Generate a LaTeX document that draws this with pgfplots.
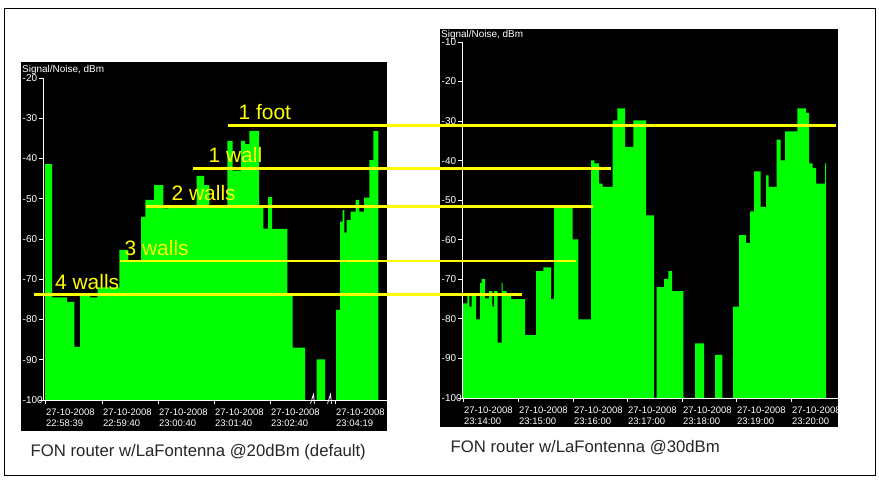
\documentclass[border=0pt]{standalone}
\usepackage{pgfplots}
\pgfplotsset{compat=1.18}
\usepackage{fontspec}
\setmainfont{Liberation Sans}

\definecolor{scrgreen}{RGB}{0,255,0}
\definecolor{scryellow}{RGB}{255,255,0}

\pgfplotsset{
  canvas/.style={at={(0,0)}, anchor=north west, width=879bp, height=481bp,
    scale only axis, xmin=0, xmax=879, ymin=0, ymax=481, y dir=reverse,
    hide axis, clip=false},
  panel/.style={anchor=north west, scale only axis, axis on top, clip=false,
    axis x line=bottom, axis y line=left,
    axis line style={white, line width=0.8bp, -},
    tick style={white, line width=0.8bp}, tick align=outside,
    major tick length=4bp, minor tick num=0,
    ticklabel style={white, font=\fontsize{9.5}{11.5}\selectfont},
    xticklabel style={anchor=north west, align=left, inner sep=0pt, yshift=-4.5bp, xshift=1bp},
    yticklabel style={anchor=west, inner sep=0pt, xshift=-16.5bp,
      font=\fontsize{10}{10}\selectfont}},
}
\tikzset{
  walllabel/.style={anchor=base west, inner sep=0pt, text=scryellow,
    font=\fontsize{21}{21}\selectfont},
  capt/.style={anchor=base west, inner sep=0pt, text=black!85,
    font=\fontsize{16.8}{16.8}\selectfont},
  snlabel/.style={anchor=base west, inner sep=0pt, text=white,
    font=\fontsize{10}{10}\selectfont},
}

\begin{document}
\begin{tikzpicture}
% background: black screen areas
\begin{axis}[canvas]
\path (axis cs:0,0) rectangle (axis cs:879,481);
\addplot[fill=black, draw=none] coordinates {(21,62) (387,62) (387,431) (21,431)};
\addplot[fill=black, draw=none] coordinates {(440,29) (838,29) (838,427) (440,427)};
\end{axis}

% left panel: 20 dBm
\begin{axis}[panel, at={(43bp,-78bp)}, width=344bp, height=322bp,
  xmin=43, xmax=387, ymin=-100, ymax=-20,
  ytick={-100,-90,-80,-70,-60,-50,-40,-30,-20},
  yticklabels={\raisebox{-4.5bp}{-100},-90,-80,-70,-60,-50,-40,-30,-20},
  xtick={45,102,158,214,270,335},
  xticklabels={{27-10-2008\\22:58:39},{27-10-2008\\22:59:40},{27-10-2008\\23:00:40},
    {27-10-2008\\23:01:40},{27-10-2008\\23:02:40},{27-10-2008\\23:04:19}}]
\addplot[fill=scrgreen, draw=none, const plot mark left] coordinates {
(45,-100) (45,-41.4) (52,-74.5) (67,-75.6) (74.3,-86.8) (80,-73.8) (90,-74.5)
(97.7,-72) (119.3,-62.7) (128.3,-65.4) (141,-54.5) (145.3,-50.3) (154,-46.6)
(163.3,-52.4) (168,-51.6) (196.7,-44.3) (204,-46.6) (209.3,-51.6) (227.3,-35.6)
(232.7,-43) (241,-35.6) (245,-36.4) (249.3,-33.2) (259,-51.8) (263.3,-57.4)
(268,-49.6) (272,-57.5) (287.3,-73.5) (292.7,-87.0) (305,-100) (316.7,-89.9)
(325,-100) (336,-77.6) (340,-55.7) (342.7,-52.8) (344.3,-58.4) (346.7,-55.3)
(350.7,-53.2) (355.7,-50.3) (359,-53.2) (364,-49.7) (369.3,-40.4) (373.3,-33.2)
(378.3,-33.2) (378.3,-100)
};
% time-axis breaks
\draw[white, line width=0.8bp] (axis cs:310.5,-100.9) -- (axis cs:313.5,-98.6) -- (axis cs:314.5,-100.9);
\draw[white, line width=0.8bp] (axis cs:327.5,-100.9) -- (axis cs:330.5,-98.6) -- (axis cs:331.5,-100.9);
\end{axis}

% right panel: 30 dBm
\begin{axis}[panel, at={(462bp,-42bp)}, width=376bp, height=356bp,
  xmin=462, xmax=838, ymin=-100, ymax=-10,
  ytick={-100,-90,-80,-70,-60,-50,-40,-30,-20,-10},
  yticklabels={\raisebox{-4.5bp}{-100},-90,-80,-70,-60,-50,-40,-30,-20,-10},
  xtick={463,518,573,627,682,736,791},
  xticklabels={{27-10-2008\\23:14:00},{27-10-2008\\23:15:00},{27-10-2008\\23:16:00},
    {27-10-2008\\23:17:00},{27-10-2008\\23:18:00},{27-10-2008\\23:19:00},{27-10-2008\\23:20:00}}]
\addplot[fill=scrgreen, draw=none, const plot mark left] coordinates {
(462.3,-100) (462.3,-76.1) (467.3,-74.0) (469.3,-76.9) (471.7,-74.0) (476,-80.1)
(480,-70.9) (481.7,-69.9) (485,-74.8) (489,-73.0) (492.3,-76.9) (494,-73.0)
(497.7,-86.0) (501.7,-70.9) (502.7,-73.0) (506.7,-74.0) (511,-75.0) (525,-84.1)
(536,-67.9) (543.3,-67.0) (551,-75.0) (554,-51.8) (572.7,-59.9) (578.3,-80.1)
(591,-39.9) (594.3,-40.7) (599,-45.8) (602.7,-46.6) (612.7,-29.8) (617.3,-26.8)
(625,-36.5) (633.3,-29.8) (646,-53.8) (654,-100) (656.7,-72.0) (664,-69.9)
(668.3,-67.9) (672,-73.0) (683.3,-100) (695,-86.2) (704,-100) (715,-89.1)
(722.3,-100) (733,-76.9) (739,-58.8) (746,-60.8) (750,-52.8) (754,-42.7)
(760.7,-51.7) (766,-43.7) (768.7,-46.6) (776.7,-34.7) (780.7,-39.9) (785,-32.6)
(797.3,-26.8) (806,-27.9) (809,-40.7) (812.7,-41.8) (816,-45.8) (825,-40.7)
(826,-40.7) (826,-100)
};
\end{axis}

% foreground: frame, reference lines, labels, captions
\begin{axis}[canvas]
\addplot[black, line width=1bp] coordinates {(4.5,8) (875.5,8) (875.5,475) (4.5,475) (4.5,8)};
\addplot[scryellow, line width=3bp] coordinates {(228,125) (836,125)};
\addplot[scryellow, line width=3bp] coordinates {(193,168) (611,168)};
\addplot[scryellow, line width=3bp] coordinates {(146,206) (593,206)};
\addplot[scryellow, line width=2bp] coordinates {(120,261) (576,261)};
\addplot[scryellow, line width=3bp] coordinates {(34,294) (522,294)};
\node[walllabel] at (axis cs:238.5,119) {1 foot};
\node[walllabel] at (axis cs:208.5,162.5) {1 wall};
\node[walllabel] at (axis cs:171.5,200.5) {2 walls};
\node[walllabel] at (axis cs:124.5,255) {3 walls};
\node[walllabel] at (axis cs:55,289) {4 walls};
\node[snlabel] at (axis cs:22,72) {Signal/Noise, dBm};
\node[snlabel] at (axis cs:441,37) {Signal/Noise, dBm};
\node[capt] at (axis cs:30.5,456) {FON router w/LaFontenna @20dBm (default)};
\node[capt] at (axis cs:450.5,452.5) {FON router w/LaFontenna @30dBm};
\end{axis}
\end{tikzpicture}
\end{document}
